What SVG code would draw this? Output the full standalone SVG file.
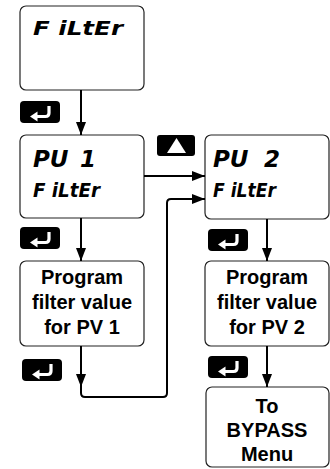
<svg xmlns="http://www.w3.org/2000/svg" width="330" height="469" viewBox="0 0 330 469">
<style>
.box{fill:#fff;stroke:#222;stroke-width:1.2}
.lcd{font-family:"DejaVu Sans",sans-serif;font-weight:bold;font-style:italic;fill:#000}
.lbl{font-family:"Liberation Sans",Arial,sans-serif;font-weight:bold;font-size:20px;fill:#000;text-anchor:middle}
.con{fill:none;stroke:#000;stroke-width:2}
</style>
<defs>
<marker id="ah" markerWidth="13" markerHeight="10" refX="13" refY="5" orient="auto" markerUnits="userSpaceOnUse">
<path d="M0,0 L13,5 L0,10 Z" fill="#000"/>
</marker>
<g id="enter">
<rect x="0" y="0" width="40" height="22" rx="4" fill="#000"/>
<path d="M29,5 V12 Q29,15.5 25.5,15.5 H15" fill="none" stroke="#fff" stroke-width="3.2"/>
<path d="M10,15.5 L17.5,10.5 L17.5,20.5 Z" fill="#fff"/>
</g>
</defs>

<g id="node-filter">
<rect class="box" x="20" y="6" width="124" height="84" rx="6"/>
<text class="lcd" x="33" y="35" font-size="19" textLength="90" lengthAdjust="spacingAndGlyphs">F iLtEr</text>
</g>
<g id="node-pv1-filter">
<rect class="box" x="20" y="135" width="124" height="83" rx="6"/>
<text class="lcd" x="33" y="167" font-size="23">PU<tspan x="80">1</tspan></text>
<text class="lcd" x="33" y="197" font-size="20" textLength="67" lengthAdjust="spacingAndGlyphs">F iLtEr</text>
</g>
<g id="node-pv2-filter">
<rect class="box" x="205" y="135" width="124" height="84" rx="6"/>
<text class="lcd" x="213" y="167" font-size="23">PU<tspan x="264">2</tspan></text>
<text class="lcd" x="213" y="197" font-size="20" textLength="63" lengthAdjust="spacingAndGlyphs">F iLtEr</text>
</g>
<g id="node-prog-pv1">
<rect class="box" x="20" y="261" width="124" height="85" rx="6"/>
<text class="lbl" x="82" y="284">Program</text>
<text class="lbl" x="82" y="309">filter value</text>
<text class="lbl" x="82" y="334">for PV 1</text>
</g>
<g id="node-prog-pv2">
<rect class="box" x="205" y="261" width="124" height="85" rx="6"/>
<text class="lbl" x="267" y="284">Program</text>
<text class="lbl" x="267" y="309">filter value</text>
<text class="lbl" x="267" y="334">for PV 2</text>
</g>
<g id="node-bypass">
<rect class="box" x="206" y="387" width="123" height="80" rx="6"/>
<text class="lbl" x="267" y="413">To</text>
<text class="lbl" x="267" y="437">BYPASS</text>
<text class="lbl" x="267" y="461">Menu</text>
</g>

<g id="buttons">
<use href="#enter" x="20" y="101"/>
<use href="#enter" x="20" y="227"/>
<use href="#enter" x="22" y="359"/>
<use href="#enter" x="208" y="229"/>
<use href="#enter" x="208" y="356"/>
<g id="up-button">
<rect x="157" y="135" width="38" height="21" rx="3" fill="#000"/>
<path d="M167,153 L186,153 L176.5,138 Z" fill="#fff"/>
</g>
</g>

<g id="connectors">
<path class="con" d="M81,90 V135" marker-end="url(#ah)"/>
<path class="con" d="M81,218 V261" marker-end="url(#ah)"/>
<path class="con" d="M144,176 H205" marker-end="url(#ah)"/>
<path class="con" d="M267,219 V261" marker-end="url(#ah)"/>
<path class="con" d="M267,346 V387" marker-end="url(#ah)"/>
<path class="con" d="M81,346 V387" marker-end="url(#ah)"/>
<path class="con" d="M81,385 V393 Q81,397 85,397 H163 Q167,397 167,393 V203 Q167,199 171,199 H205" marker-end="url(#ah)"/>
</g>
</svg>
